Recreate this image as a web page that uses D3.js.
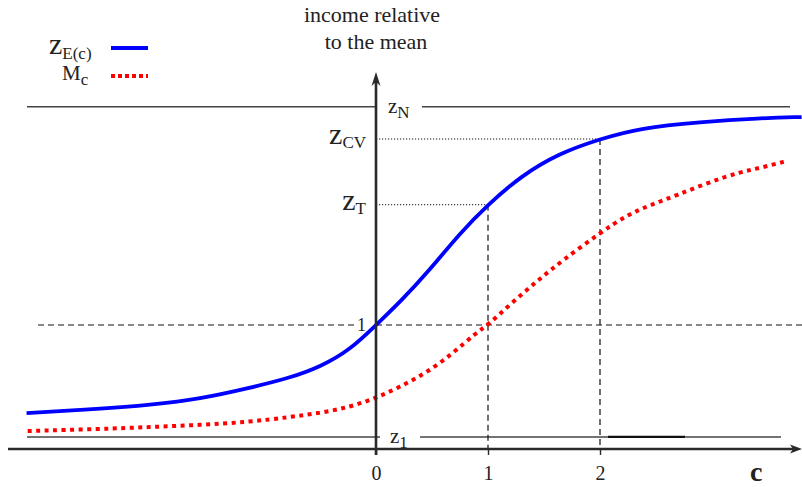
<!DOCTYPE html>
<html>
<head>
<meta charset="utf-8">
<script src="https://cdn.jsdelivr.net/npm/d3@7"></script>
<style>
  body { margin: 0; background: #fff; }
  svg { display: block; font-family: "Liberation Serif", "Times New Roman", serif; }
</style>
</head>
<body>
<svg id="chart" width="802" height="487"></svg>
<script>
// c values (x) and incomes relative to the mean (y)
const blueC = [-3.12, -2.46, -2.02, -1.57, -1.13, -0.77, -0.5, -0.23, 0, 0.21, 0.48, 0.75, 1, 1.29, 1.64, 2, 2.36, 2.89, 3.43, 3.8];
const blueZ = [0.29, 0.323, 0.355, 0.403, 0.492, 0.573, 0.661, 0.8, 1.0, 1.18, 1.444, 1.742, 1.97, 2.2, 2.387, 2.5, 2.589, 2.637, 2.669, 2.677];

const redC = [-3.11, -2.46, -2.02, -1.57, -1.13, -0.77, -0.5, -0.23, 0, 0.21, 0.45, 0.69, 0.89, 1, 1.22, 1.46, 1.67, 2, 2.24, 2.45, 2.69, 2.98, 3.25, 3.43, 3.67];
const redM = [0.145, 0.161, 0.177, 0.194, 0.218, 0.258, 0.29, 0.339, 0.411, 0.5, 0.613, 0.774, 0.935, 1.0, 1.185, 1.371, 1.524, 1.742, 1.887, 1.968, 2.048, 2.153, 2.234, 2.266, 2.323];

const xTicks = [0, 1, 2];
const zN = 2.76, zCV = 2.5, zT = 1.97, z1 = 0.097;

const svg = d3.select("#chart");
const x = d3.scaleLinear().domain([0, 1]).range([376, 488]);
const y = d3.scaleLinear().domain([0, 1]).range([449, 325]);
const axisCol = "#2a2a2a";

// level lines z_N and z_1
svg.append("line").attr("x1", 27).attr("x2", x(0)).attr("y1", y(zN)).attr("y2", y(zN))
  .attr("stroke", "#444").attr("stroke-width", 1.4);
svg.append("line").attr("x1", 422).attr("x2", 790).attr("y1", y(zN)).attr("y2", y(zN))
  .attr("stroke", "#444").attr("stroke-width", 1.4);
svg.append("line").attr("x1", 27).attr("x2", 380).attr("y1", y(z1)).attr("y2", y(z1))
  .attr("stroke", "#444").attr("stroke-width", 1.4);
svg.append("line").attr("x1", 420).attr("x2", 781).attr("y1", y(z1)).attr("y2", y(z1))
  .attr("stroke", "#444").attr("stroke-width", 1.4);
svg.append("line").attr("x1", 608).attr("x2", 685).attr("y1", y(z1)).attr("y2", y(z1))
  .attr("stroke", "#111").attr("stroke-width", 2.2);

// dashed line at 1
svg.append("line").attr("x1", 38).attr("x2", 354).attr("y1", y(1)).attr("y2", y(1))
  .attr("stroke", "#111").attr("stroke-width", 1.2).attr("stroke-dasharray", "6 4");
svg.append("line").attr("x1", x(0)).attr("x2", 802).attr("y1", y(1)).attr("y2", y(1))
  .attr("stroke", "#111").attr("stroke-width", 1.2).attr("stroke-dasharray", "6 4");

// vertical dashed lines
[[1, zT], [2, zCV]].forEach(([c, z]) => {
  svg.append("line").attr("x1", x(c)).attr("x2", x(c)).attr("y1", y(z)).attr("y2", y(0))
    .attr("stroke", "#111").attr("stroke-width", 1.2).attr("stroke-dasharray", "6 4");
  svg.append("line").attr("x1", x(0)).attr("x2", x(c)).attr("y1", y(z)).attr("y2", y(z))
    .attr("stroke", "#111").attr("stroke-width", 1).attr("stroke-dasharray", "1.2 1.8");
});

// curves
const line = d3.line().x(d => x(d[0])).y(d => y(d[1])).curve(d3.curveBasis);
svg.append("path").datum(redC.map((c, i) => [c, redM[i]]))
  .attr("d", line).attr("fill", "none").attr("stroke", "#ff0000")
  .attr("stroke-width", 4).attr("stroke-dasharray", "4 4.5");
svg.append("path").datum(blueC.map((c, i) => [c, blueZ[i]]))
  .attr("d", line).attr("fill", "none").attr("stroke", "#0000ff")
  .attr("stroke-width", 3.8);

// axes
svg.append("line").attr("x1", 8).attr("x2", 796).attr("y1", y(0)).attr("y2", y(0))
  .attr("stroke", axisCol).attr("stroke-width", 2.6);
svg.append("path").attr("d", `M802,${y(0)} L790,${y(0) - 4.5} L793,${y(0)} L790,${y(0) + 4.5} Z`)
  .attr("fill", axisCol);
svg.append("line").attr("x1", x(0)).attr("x2", x(0)).attr("y1", 80).attr("y2", y(0) + 6)
  .attr("stroke", axisCol).attr("stroke-width", 2.6);
svg.append("path").attr("d", `M${x(0)},72 L${x(0) - 4.5},86 L${x(0)},82 L${x(0) + 4.5},86 Z`)
  .attr("fill", axisCol);

const xAxis = d3.axisBottom(x).tickValues(xTicks).tickSize(6).tickPadding(11).tickFormat(d3.format("d"));
const gx = svg.append("g").attr("transform", `translate(0,${y(0)})`).call(xAxis);
gx.select(".domain").remove();
gx.selectAll(".tick line").attr("stroke", axisCol).attr("stroke-width", 1.4);
gx.selectAll(".tick text").attr("font-size", 20).attr("fill", "#222")
  .attr("font-family", "Liberation Serif, serif");

// texts
const txt = (xx, yy, size, anchor) => svg.append("text").attr("x", xx).attr("y", yy)
  .attr("font-size", size).attr("text-anchor", anchor || "start").attr("fill", "#222");

txt(372, 22, 22, "middle").text("income relative");
txt(376, 49, 22, "middle").text("to the mean");

txt(750, 481, 28).attr("font-weight", "bold").text("c");

const sub = (t, main, mainSize, s, subSize, dy) => {
  t.append("tspan").attr("font-size", mainSize).text(main);
  t.append("tspan").attr("font-size", subSize).attr("dy", dy).text(s);
  return t;
};
sub(txt(388, y(zN) + 6, 21), "z", 21, "N", 17, 5);
sub(txt(390, y(z1) + 6, 21), "z", 21, "1", 17, 5);
sub(txt(366, y(zCV) + 5, 28, "end"), "z", 30, "CV", 17, 4);
sub(txt(366, y(zT) + 5, 28, "end"), "z", 30, "T", 17, 4);
txt(366, y(1) + 6, 18, "end").text("1");

// legend
sub(txt(49, 54, 30), "z", 30, "E(c)", 17, 5);
sub(txt(62, 80, 21), "M", 21, "c", 17, 5);
svg.append("line").attr("x1", 111).attr("x2", 148).attr("y1", 48).attr("y2", 48)
  .attr("stroke", "#0000ff").attr("stroke-width", 3.8);
svg.append("line").attr("x1", 111).attr("x2", 148).attr("y1", 76).attr("y2", 76)
  .attr("stroke", "#ff0000").attr("stroke-width", 4).attr("stroke-dasharray", "4 3");
</script>
</body>
</html>
